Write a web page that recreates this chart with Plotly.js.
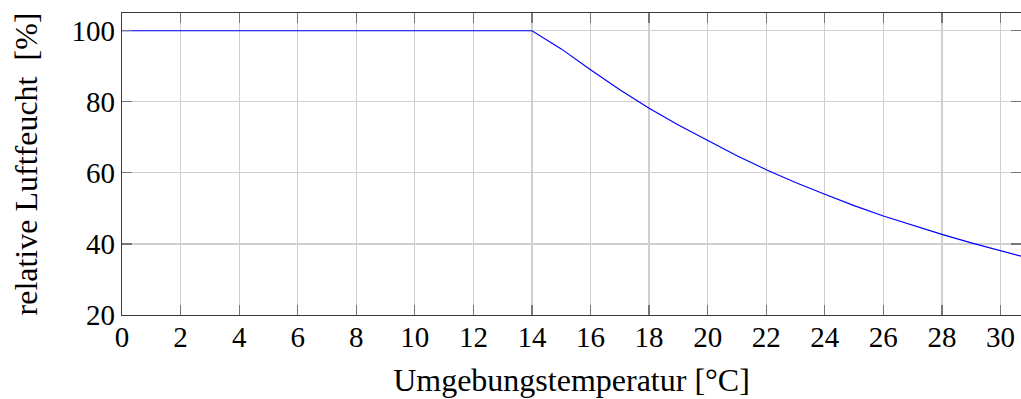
<!DOCTYPE html>
<html>
<head>
<meta charset="utf-8">
<script src="https://cdn.plot.ly/plotly-3.0.1.min.js"></script>
<style>
  html, body { margin: 0; padding: 0; background: #fff; }
  #chart { width: 1021px; height: 399px; }
</style>
</head>
<body>
<div id="chart"></div>
<script>
// Ambient temperature [°C] and resulting relative humidity [%]
const temperatur = [0, 14, 15, 16, 17, 18, 19, 20, 21, 22, 23, 24, 25, 26, 27, 28, 29, 30, 31];
const feuchte    = [100, 100, 94.9, 89.0, 83.4, 78.2, 73.5, 69.05, 64.8, 60.9, 57.3, 54.0, 50.8, 47.85, 45.2, 42.7, 40.3, 38.0, 35.9];

const xTicks = [0, 2, 4, 6, 8, 10, 12, 14, 16, 18, 20, 22, 24, 26, 28, 30];
const yTicks = [20, 40, 60, 80, 100];

const serif = "'Liberation Serif', 'DejaVu Serif', serif";

const trace = {
  x: temperatur,
  y: feuchte,
  type: 'scatter',
  mode: 'lines',
  line: { color: '#0000ff', width: 1.2 },
  hoverinfo: 'skip'
};

const axisCommon = {
  showline: true,
  linecolor: '#3a3a3a',
  linewidth: 1.3,
  mirror: 'ticks',
  ticks: 'inside',
  ticklen: 10,
  tickwidth: 1.2,
  tickcolor: '#777',
  showgrid: true,
  gridcolor: '#cfcfcf',
  gridwidth: 1.2,
  zeroline: false,
  tickfont: { family: serif, size: 29, color: '#000' }
};

const layout = {
  width: 1021,
  height: 399,
  margin: { l: 122, r: 0, t: 13, b: 84 },
  paper_bgcolor: '#fff',
  plot_bgcolor: '#fff',
  showlegend: false,
  xaxis: Object.assign({}, axisCommon, {
    range: [0, 30.7],
    tickvals: xTicks,
    ticktext: xTicks.map(String),
    ticklabelstandoff: -4,
    title: { text: 'Umgebungstemperatur [°C]', font: { family: serif, size: 32, color: '#000' }, standoff: 16 }
  }),
  yaxis: Object.assign({}, axisCommon, {
    range: [20, 105],
    tickvals: yTicks,
    ticktext: yTicks.map(String),
    title: { text: 'relative Luftfeucht\u00a0 [%]', font: { family: serif, size: 32, color: '#000' }, standoff: 24 }
  })
};

Plotly.newPlot('chart', [trace], layout, { displayModeBar: false, staticPlot: true });
</script>
</body>
</html>
